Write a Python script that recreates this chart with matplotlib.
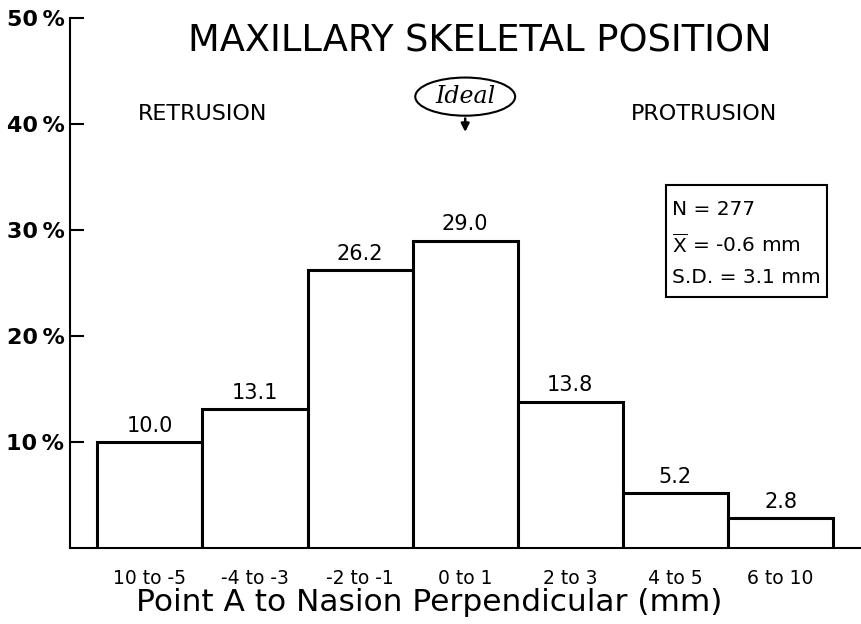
import matplotlib.pyplot as plt
from matplotlib.patches import Ellipse, Rectangle

categories = ["10 to -5", "-4 to -3", "-2 to -1", "0 to 1", "2 to 3", "4 to 5", "6 to 10"]
percents = [10.0, 13.1, 26.2, 29.0, 13.8, 5.2, 2.8]
value_labels = ["10.0", "13.1", "26.2", "29.0", "13.8", "5.2", "2.8"]
yticks = [10, 20, 30, 40, 50]
ytick_labels = ["10\u2009%", "20\u2009%", "30\u2009%", "40\u2009%", "50\u2009%"]
stats = ["N = 277", r"$\overline{\mathsf{X}}$ = -0.6 mm", "S.D. = 3.1 mm"]

plt.rcParams['font.family'] = ['DejaVu Sans']
plt.rcParams['mathtext.fontset'] = 'dejavusans'

fig = plt.figure(figsize=(8.61, 6.24), dpi=100)
ax = fig.add_axes([0.0813, 0.1218, 0.918, 0.849])

x = list(range(len(categories)))
ax.bar(x, percents, width=1.0, color='white', edgecolor='black', linewidth=2.2, zorder=3)

for xi, v, lab in zip(x, percents, value_labels):
    ax.text(xi, v + 0.6, lab, ha='center', va='bottom', fontsize=15)

ax.set_xlim(-0.76, 6.76)
ax.set_ylim(0, 50)
ax.set_yticks(yticks)
ax.set_yticklabels(ytick_labels, fontsize=16, fontweight='bold')
ax.set_xticks(x)
ax.set_xticklabels(categories, fontsize=13.5)
ax.tick_params(axis='y', direction='in', length=10, width=1.5, pad=4)
ax.tick_params(axis='x', length=0, pad=15)

for s in ['top', 'right']:
    ax.spines[s].set_visible(False)
ax.spines['left'].set_linewidth(1.5)
ax.spines['bottom'].set_linewidth(1.5)

ax.set_xlabel("Point A to Nasion Perpendicular (mm)", fontsize=22.5, labelpad=2)
ax.xaxis.set_label_coords(0.455, -0.075)

fig.text(0.557, 0.935, "MAXILLARY SKELETAL POSITION", ha='center', va='center', fontsize=26.5)
ax.text(0.5, 41.0, "RETRUSION", ha='center', va='center', fontsize=16)
ax.text(5.27, 41.0, "PROTRUSION", ha='center', va='center', fontsize=16)

# Ideal marker
ax.add_patch(Ellipse((3.0, 42.6), 0.95, 3.6, facecolor='white', edgecolor='black', linewidth=1.5))
ax.text(3.0, 42.6, "Ideal", ha='center', va='center', fontsize=17, style='italic',
        family='DejaVu Serif')
ax.annotate("", xy=(3.0, 39.0), xytext=(3.0, 40.8),
            arrowprops=dict(arrowstyle='-|>', color='black', lw=1.8, mutation_scale=12))

# stats box
ax.add_patch(Rectangle((4.914, 23.68), 1.524, 10.57, facecolor='white', edgecolor='black',
                       linewidth=1.5, zorder=4))
for yy, line in zip([31.9, 28.6, 25.5], stats):
    ax.text(4.97, yy, line, ha='left', va='center', fontsize=14.5, zorder=5)

fig.savefig("out.png", dpi=100)
